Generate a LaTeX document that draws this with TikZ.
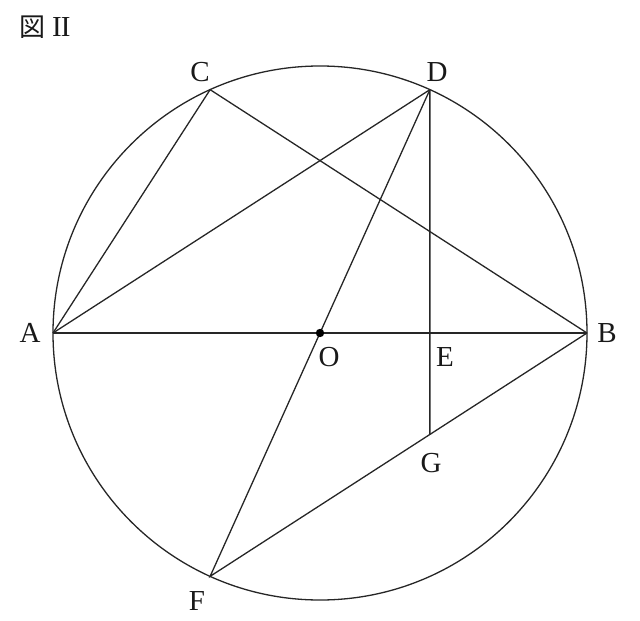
\documentclass[tikz,border=0pt]{standalone}
\usepackage{fontspec}
\setmainfont{Liberation Serif}
\newfontfamily\cjk{Noto Sans CJK JP}
\usetikzlibrary{calc,intersections}
\tikzset{
  geo/.style={line width=1.3pt, draw=black!85},
  lbl/.style={font=\fontsize{29}{31}\selectfont, inner sep=0pt, text=black!90},
}
\begin{document}
\begin{tikzpicture}[x=1pt,y=-1pt]
\useasboundingbox (0,0) rectangle (640,621);
\def\R{267}
\coordinate (O) at (320,333);
\coordinate (A) at ($(O)+(180:\R)$);
\coordinate (B) at ($(O)+(0:\R)$);
\coordinate (C) at ($(O)+(-114.3:\R)$);
\coordinate (D) at ($(O)+(-65.7:\R)$);
\coordinate (F) at ($(O)+(114.3:\R)$);
\coordinate (E) at (A -| D);
\path[name path=bf] (B) -- (F);
\path[name path=dv] (D) -- ($(D)+(0,500)$);
\path[name intersections={of=bf and dv, by=G}];
\draw[geo] (O) circle (\R);
\draw[geo] (A) -- (B);
\draw[geo] (A) -- (C) -- (B);
\draw[geo] (A) -- (D);
\draw[geo] (D) -- (F) -- (B);
\draw[geo] (D) -- (G);
\fill (O) circle (4.2);
\node[lbl] (lA) at (30,333) {A};
\node[lbl] (lB) at (607,333) {B};
\node[lbl] (lC) at (200,72) {C};
\node[lbl] (lD) at (437,72) {D};
\node[lbl] (lO) at (329,357) {O};
\node[lbl] (lE) at (445,357) {E};
\node[lbl] (lG) at (431,463) {G};
\node[lbl] (lF) at (197,601) {F};
\node[lbl, anchor=west] (title) at (19,27) {{\cjk\fontsize{26}{28}\selectfont 図}\kern7pt I\kern-1ptI};
\end{tikzpicture}
\end{document}
